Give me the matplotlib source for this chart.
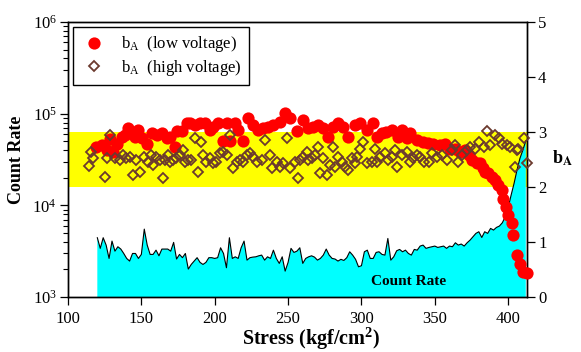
import numpy as np
import matplotlib
matplotlib.use("Agg")
import matplotlib.pyplot as plt
from matplotlib.patches import Rectangle
from matplotlib.transforms import blended_transform_factory

plt.rcParams["font.family"] = ["Liberation Serif", "DejaVu Serif"]
plt.rcParams["mathtext.fontset"] = "stix"
plt.rcParams["mathtext.default"] = "regular"

# count rate, sampled every 2 kgf/cm2 from 120 to 412
stress_cr = np.arange(120, 413, 2)
count_rate = [
    4440, 3400, 4440, 3690, 2640, 4080, 3170, 3540, 3340, 2990,
    2640, 2470, 2990, 2990, 2640, 2920, 5510, 3690, 2920, 2920,
    3250, 2820, 3340, 3340, 3340, 3170, 3950, 2600, 2920, 2690,
    2990, 2020, 2270, 2470, 2690, 2390, 2270, 2390, 2690, 2690,
    2640, 2690, 3450, 2990, 2090, 4440, 2640, 2750, 2640, 3450,
    4080,
    2530, 2690, 2730, 2750, 2820, 2870, 2530, 2750, 2640, 3250,
    2640, 2330, 2750, 1920, 2390, 3400, 3070, 3170, 3450, 2330,
    2640, 2750, 2820, 2730, 2530, 2640, 2870, 3340, 2870, 2640,
    2600, 2470, 2580, 2510, 2690, 3120, 2870, 2580, 2140, 2200,
    3120, 3250, 2640, 2640, 3070, 3120, 2920, 2870, 4360,
    2530, 2750, 3200, 3310, 3120, 3250, 2990, 2870, 3310, 3250,
    3600, 3690, 3400, 3480, 3540, 3600, 3480, 3540, 3600, 3400,
    3600, 3540, 3910, 3690, 3790, 3600, 3910, 4180, 4550, 4950,
    5160, 4470, 5160, 4950, 5610, 5380, 5750, 5950, 6460, 7520,
    9500, 12950, 17360, 24270, 32530, 40090, 50680,
]

# b-value, low voltage
stress_low = [
    119.1, 123.0, 126.4, 128.6, 130.9, 133.2, 136.6, 138.9, 141.1, 143.4,
    145.7, 148.0, 150.2, 153.6, 157.0, 160.5, 163.9, 167.3, 169.5, 172.9,
    174.1, 177.5, 180.9, 183.2, 186.6, 190.0, 193.4, 196.8, 199.0, 202.5,
    205.9, 208.2, 210.4, 213.8, 216.1, 219.5, 222.9, 226.3, 229.7, 233.1,
    236.5, 239.9, 244.5, 247.9, 251.3, 255.9, 260.4, 263.8, 267.2, 270.6,
    274.0, 277.4, 280.8, 284.3, 287.7, 291.1, 295.6, 299.0, 303.6, 308.1,
    310.4, 313.8, 316.6, 320.6, 324.6, 327.5, 330.9, 333.1, 337.7, 342.2,
    345.5, 349.0, 353.6, 357.0, 360.4, 363.8, 367.2, 370.6, 373.0, 375.2,
    378.6, 380.9, 382.6, 384.3, 386.5, 388.8, 391.1, 393.3, 395.6, 396.7,
    398.6, 400.1, 402.4, 403.5, 405.8, 408.1, 410.3, 412.6,
]
b_low = [
    2.73, 2.76, 2.67, 2.87, 2.64, 2.79, 2.91, 2.95, 3.07, 2.98,
    2.91, 3.04, 2.89, 2.79, 2.98, 2.95, 2.98, 2.89, 2.91, 2.73,
    3.01, 3.01, 3.16, 3.16, 3.13, 3.16, 3.16, 3.04, 3.10, 3.16,
    2.83, 3.16, 2.83, 3.16, 3.04, 2.83, 3.25, 3.13, 3.04, 3.07,
    3.10, 3.13, 3.19, 3.34, 3.25, 3.01, 3.22, 3.07, 3.10, 3.13,
    3.07, 2.91, 3.10, 3.16, 3.10, 2.91, 3.13, 3.16, 3.04, 3.16,
    2.91, 2.98, 3.00, 3.04, 2.91, 3.04, 2.89, 2.98, 2.85, 2.82,
    2.80, 2.79, 2.76, 2.79, 2.70, 2.70, 2.64, 2.67, 2.58, 2.49,
    2.43, 2.43, 2.35, 2.28, 2.25, 2.19, 2.13, 2.04, 1.95, 1.79,
    1.64, 1.49, 1.34, 1.13, 0.76, 0.61, 0.46, 0.43,
]

# b-value, high voltage
stress_high = [
    114.5, 116.0, 117.3, 125.0, 126.4, 128.4, 131.8, 135.2, 137.5, 139.8,
    142.0, 144.3, 146.6, 148.9, 151.8, 154.5, 156.8, 158.0, 160.2, 162.5,
    164.8, 165.9, 168.2, 169.3, 171.6, 173.9, 176.1, 178.4, 179.5, 181.8,
    184.1, 186.4, 188.6, 190.9, 192.0, 194.3, 196.6, 198.9, 201.1, 203.4,
    205.9, 208.1, 210.4, 212.7, 215.0, 217.2, 219.5, 221.8, 224.1, 226.3,
    228.6, 232.0, 234.3, 237.7, 238.8, 242.2, 244.5, 246.8, 249.1, 251.3,
    254.7, 257.0, 258.1, 260.4, 262.7, 263.8, 266.1, 268.4, 270.6, 271.8,
    274.0, 276.3, 278.6, 280.9, 282.0, 284.3, 286.6, 288.8, 291.1, 293.4,
    295.6, 296.8, 299.1, 301.3, 303.6, 307.0, 309.3, 310.4, 312.7, 316.1,
    318.4, 320.7, 322.9, 324.1, 327.5, 330.9, 333.2, 335.4, 337.7, 340.0,
    342.3, 345.7, 347.9, 351.4, 354.8, 358.2, 361.6, 363.9, 366.1, 368.4,
    371.8, 374.1, 377.5, 379.8, 383.2, 385.5, 387.7, 391.1, 393.4, 395.7,
    399.1, 401.4, 404.8, 405.9, 407.0, 410.5, 412.7,
]
b_high = [
    2.38, 2.64, 2.52, 2.19, 2.52, 2.95, 2.52, 2.49, 2.58, 2.52,
    2.55, 2.22, 2.49, 2.28, 2.55, 2.46, 2.58, 2.40, 2.55, 2.49,
    2.16, 2.49, 2.58, 2.46, 2.49, 2.52, 2.58, 2.67, 2.46, 2.49,
    2.49, 2.89, 2.28, 2.82, 2.58, 2.46, 2.52, 2.43, 2.46, 2.61,
    2.64, 2.58, 2.95, 2.34, 2.46, 2.49, 2.46, 2.58, 2.61, 2.55,
    2.46, 2.49, 2.85, 2.58, 2.34, 2.46, 2.37, 2.43, 2.89, 2.34,
    2.46, 2.16, 2.49, 2.55, 2.64, 2.49, 2.52, 2.58, 2.73, 2.25,
    2.52, 2.22, 2.40, 2.73, 2.37, 2.55, 2.46, 2.37, 2.31, 2.52,
    2.43, 2.55, 2.70, 2.82, 2.43, 2.46, 2.70, 2.46, 2.55, 2.61,
    2.49, 2.55, 2.67, 2.37, 2.58, 2.64, 2.46, 2.52, 2.58, 2.55,
    2.46, 2.46, 2.61, 2.55, 2.58, 2.49, 2.67, 2.76, 2.46, 2.58,
    2.67, 2.73, 2.70, 2.82, 2.73, 3.01, 2.76, 2.95, 2.89, 2.79,
    2.76, 2.73, 2.37, 2.67, 2.70, 2.89, 2.43,
]

band_lo, band_hi = 2.0, 3.0

fig = plt.figure(figsize=(5.81, 3.52), dpi=100)
ax = fig.add_axes([0.117, 0.156, 0.790, 0.7815])
ax2 = ax.twinx()

ax.set_xlim(100, 412.8)
ax.set_ylim(1e3, 1e6)
ax.set_yscale("log")
ax2.set_ylim(0, 5)

# yellow band lives in b-value units but sits underneath the count-rate fill
band = Rectangle((0, band_lo), 1, band_hi - band_lo, facecolor="#ffff00",
                 edgecolor="none",
                 transform=blended_transform_factory(ax.transAxes, ax2.transData),
                 zorder=0.5)
ax.add_patch(band)

ax.fill_between(stress_cr, 1e3, count_rate, facecolor="#00ffff",
                edgecolor="none", zorder=1)
ax.plot(stress_cr, count_rate, color="black", lw=0.8, zorder=2)
ax.text(332, 1470, "Count Rate", fontsize=11, fontweight="bold",
        ha="center", va="center", zorder=3)

ax2.plot(stress_low, b_low, "o", color="#ff0000", ms=8.8, mec="none",
         clip_on=False, label="b$_A$  (low voltage)", zorder=4)
ax2.plot(stress_high, b_high, "D", mfc="none", mec="#6b3a2e", mew=1.3,
         ms=4.6, clip_on=False, label="b$_A$  (high voltage)", zorder=5)

ax.set_xticks([100, 150, 200, 250, 300, 350, 400])
ax2.set_yticks([0, 1, 2, 3, 4, 5])
ax2.yaxis.set_minor_locator(plt.NullLocator())

for a in (ax, ax2):
    a.tick_params(which="major", direction="out", length=6, width=0.9,
                  labelsize=12, pad=2)
    a.tick_params(which="minor", direction="out", length=3.5, width=0.8)
    for sp in a.spines.values():
        sp.set_linewidth(1.0)
ax.tick_params(axis="x", pad=4)

ax.set_ylabel("Count Rate", fontsize=13, fontweight="bold")
ax.yaxis.set_label_coords(-0.094, 0.5)
ax.set_xlabel("Stress (kgf/cm$^2$)", fontsize=14.5, fontweight="bold",
              va="center")
ax.xaxis.set_label_coords(0.53, -0.152)
ax2.set_ylabel("b$_\\mathbf{A}$", fontsize=13, fontweight="bold",
               rotation=0, va="center", ha="center")
ax2.yaxis.set_label_coords(1.078, 0.505)

leg = ax2.legend(loc="upper left", bbox_to_anchor=(0.011, 0.982),
                 borderaxespad=0, fontsize=12, frameon=True, fancybox=False,
                 framealpha=1, edgecolor="black", handletextpad=0.8,
                 borderpad=0.45, labelspacing=0.2, handlelength=1.6)
leg.get_frame().set_linewidth(1.0)

fig.savefig("out.png", dpi=100)
